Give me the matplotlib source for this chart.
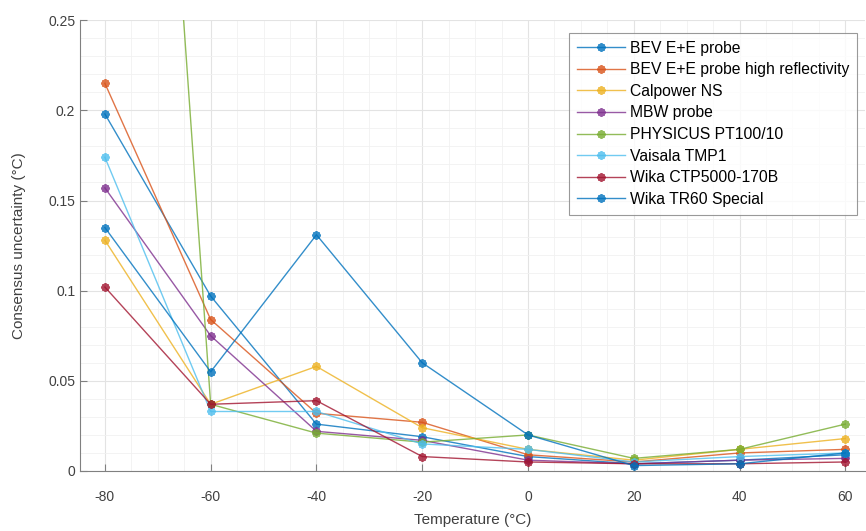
import numpy as np
import matplotlib.pyplot as plt
from matplotlib.ticker import MultipleLocator

plt.rcParams['font.family'] = ['Liberation Sans', 'DejaVu Sans']
plt.rcParams['axes.unicode_minus'] = False

# --- Data ---
temperatures = [-80, -60, -40, -20, 0, 20, 40, 60]

probe_names = [
    "BEV E+E probe",
    "BEV E+E probe high reflectivity",
    "Calpower NS",
    "MBW probe",
    "PHYSICUS PT100/10",
    "Vaisala TMP1",
    "Wika CTP5000-170B",
    "Wika TR60 Special",
]

bev_ee = [0.198, 0.097, 0.026, 0.019, 0.008, 0.004, 0.006, 0.009]
bev_ee_high = [0.215, 0.084, 0.032, 0.027, 0.009, 0.005, 0.010, 0.012]
calpower = [0.128, 0.037, 0.058, 0.024, 0.012, 0.006, 0.012, 0.018]
mbw = [0.157, 0.075, 0.022, 0.017, 0.006, 0.004, 0.006, 0.007]
physicus = [0.87, 0.037, 0.021, 0.016, 0.020, 0.007, 0.012, 0.026]
vaisala = [0.174, 0.033, 0.033, 0.015, 0.012, 0.005, 0.008, 0.010]
wika_ctp = [0.102, 0.037, 0.039, 0.008, 0.005, 0.004, 0.004, 0.005]
wika_tr60 = [0.135, 0.055, 0.131, 0.060, 0.020, 0.003, 0.004, 0.010]

series = [bev_ee, bev_ee_high, calpower, mbw, physicus, vaisala, wika_ctp, wika_tr60]

# couleurs par défaut de MATLAB (la 8e reprend la 1re)
couleurs = ['#0072BD', '#D95319', '#EDB120', '#7E2F8E',
            '#77AC30', '#4DBEEE', '#A2142F', '#0072BD']

# --- Affichage ---
fig = plt.figure(figsize=(8.66, 5.31), dpi=100)
ax = fig.add_axes([0.0924, 0.113, 0.907, 0.849])

for nom, valeurs, c in zip(probe_names, series, couleurs):
    ax.plot(temperatures, valeurs, color=c, lw=1.0, alpha=0.8,
            marker=(8, 2, 0), markersize=6, markeredgewidth=1.5, label=nom)

ax.set_xlim(-84.7, 63.8)
ax.set_ylim(0, 0.25)
ax.set_xticks(temperatures)
ax.set_yticks([0, 0.05, 0.1, 0.15, 0.2, 0.25])
ax.set_yticklabels(["0", "0.05", "0.1", "0.15", "0.2", "0.25"])
ax.xaxis.set_minor_locator(MultipleLocator(5))
ax.yaxis.set_minor_locator(MultipleLocator(0.01))

ax.grid(True, which='major', color='#e3e3e3', lw=0.8)
ax.grid(True, which='minor', color='#f1f1f1', lw=0.6)
ax.set_axisbelow(True)

for s in ['top', 'right']:
    ax.spines[s].set_visible(False)
for s in ['left', 'bottom']:
    ax.spines[s].set_color('#808080')
ax.tick_params(which='major', direction='in', length=5, color='#808080',
               labelsize=10, labelcolor='#404040')
ax.tick_params(axis='x', which='major', pad=14)
ax.tick_params(which='minor', length=0)

ax.set_xlabel("Temperature (°C)", fontsize=11, color='#404040', labelpad=6)
ax.set_ylabel("Consensus uncertainty (°C)", fontsize=11, color='#404040', labelpad=16)

leg = ax.legend(loc='upper right', bbox_to_anchor=(0.989, 0.972), fontsize=11.3,
                frameon=True, fancybox=False, edgecolor='#808080',
                handlelength=3.05, handletextpad=0.32, labelspacing=0.42,
                borderpad=0.5, borderaxespad=0)
leg.get_frame().set_linewidth(0.8)

plt.savefig('out.png', dpi=100)
